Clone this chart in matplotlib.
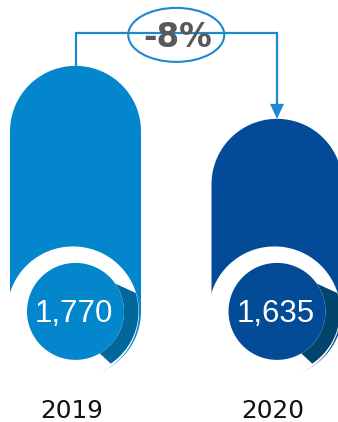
import numpy as np
import matplotlib
matplotlib.use("Agg")
import matplotlib.pyplot as plt
from matplotlib.patches import Polygon, Ellipse

years = ["2019", "2020"]
values = [1770, 1635]
bar_colors = ["#0386cb", "#034b96"]
shadow_colors = ["#02679b", "#01446c"]
line_color = "#1b88cf"

W, H = 338, 422
fig = plt.figure(figsize=(W / 100, H / 100), dpi=100)
ax = fig.add_axes([0, 0, 1, 1])
ax.set_xlim(-0.3747, 1.3027)
ax.set_ylim(862, 1938)
ax.axis("off")

# data units per pixel, used to keep the round shapes round
KX = (ax.get_xlim()[1] - ax.get_xlim()[0]) / W
KY = (ax.get_ylim()[1] - ax.get_ylim()[0]) / H

BASE = 1144      # level of the disc centres
R_BAR = 65.5     # half bar width, px
R_WHITE = 66
R_SHADOW = 63
R_DISC = 48.5


def arc(cx, cy, r, a0, a1, n=90):
    t = np.radians(np.linspace(a0, a1, n))
    return np.column_stack([cx + r * KX * np.cos(t), cy + r * KY * np.sin(t)])


for i, (val, col, dark) in enumerate(zip(values, bar_colors, shadow_colors)):
    top_c = val - R_BAR * KY
    pill = np.vstack([arc(i, top_c, R_BAR, 0, 180), arc(i, BASE, R_BAR, 180, 360)])
    ax.add_patch(Polygon(pill, closed=True, fc=col, ec="none"))

    # white ring, nudged left so only a sliver of the bar shows on the right
    ax.add_patch(Polygon(arc(i - 2.5 * KX, BASE - 1 * KY, R_WHITE, 0, 360),
                         closed=True, fc="white", ec="none"))

    shadow = np.vstack([arc(i, BASE, R_DISC, 35, -60), arc(i, BASE, R_SHADOW, -56, 17)])
    ax.add_patch(Polygon(shadow, closed=True, fc=dark, ec="none"))

    ax.add_patch(Polygon(arc(i, BASE, R_DISC, 0, 360), closed=True, fc=col, ec="none"))

    ax.text(i - 1.5 * KX, BASE - 10.5 * KY, f"{val:,}", color="white",
            fontsize=22.5, family="Liberation Sans", ha="center", va="baseline")
    ax.text(i - 4 * KX, BASE - 106.5 * KY, years[i], color="#111111",
            fontsize=17.8, family="DejaVu Sans", ha="center", va="baseline")

# change connector between the two bars
y_line = values[0] + 33 * KY
head_len, head_w = 15, 7
ax.plot([0, 0, 1, 1], [values[0], y_line, y_line, values[1] + head_len * KY],
        color=line_color, lw=1.6, solid_joinstyle="miter", solid_capstyle="butt")
ax.add_patch(Polygon([[1 - head_w * KX, values[1] + head_len * KY],
                      [1 + head_w * KX, values[1] + head_len * KY],
                      [1, values[1]]], closed=True, fc=line_color, ec="none"))

change = (values[1] - values[0]) / values[0] * 100
ax.add_patch(Ellipse((0.5, y_line - 2 * KY), 96 * KX, 54 * KY,
                     fc="white", ec=line_color, lw=1.5))
ax.text(0.5 + 1.5 * KX, y_line - 14 * KY, f"{round(change):.0f}%", color="#595959",
        fontsize=23.5, fontweight="bold", family="DejaVu Sans",
        ha="center", va="baseline")

fig.savefig("out.png", dpi=100)
